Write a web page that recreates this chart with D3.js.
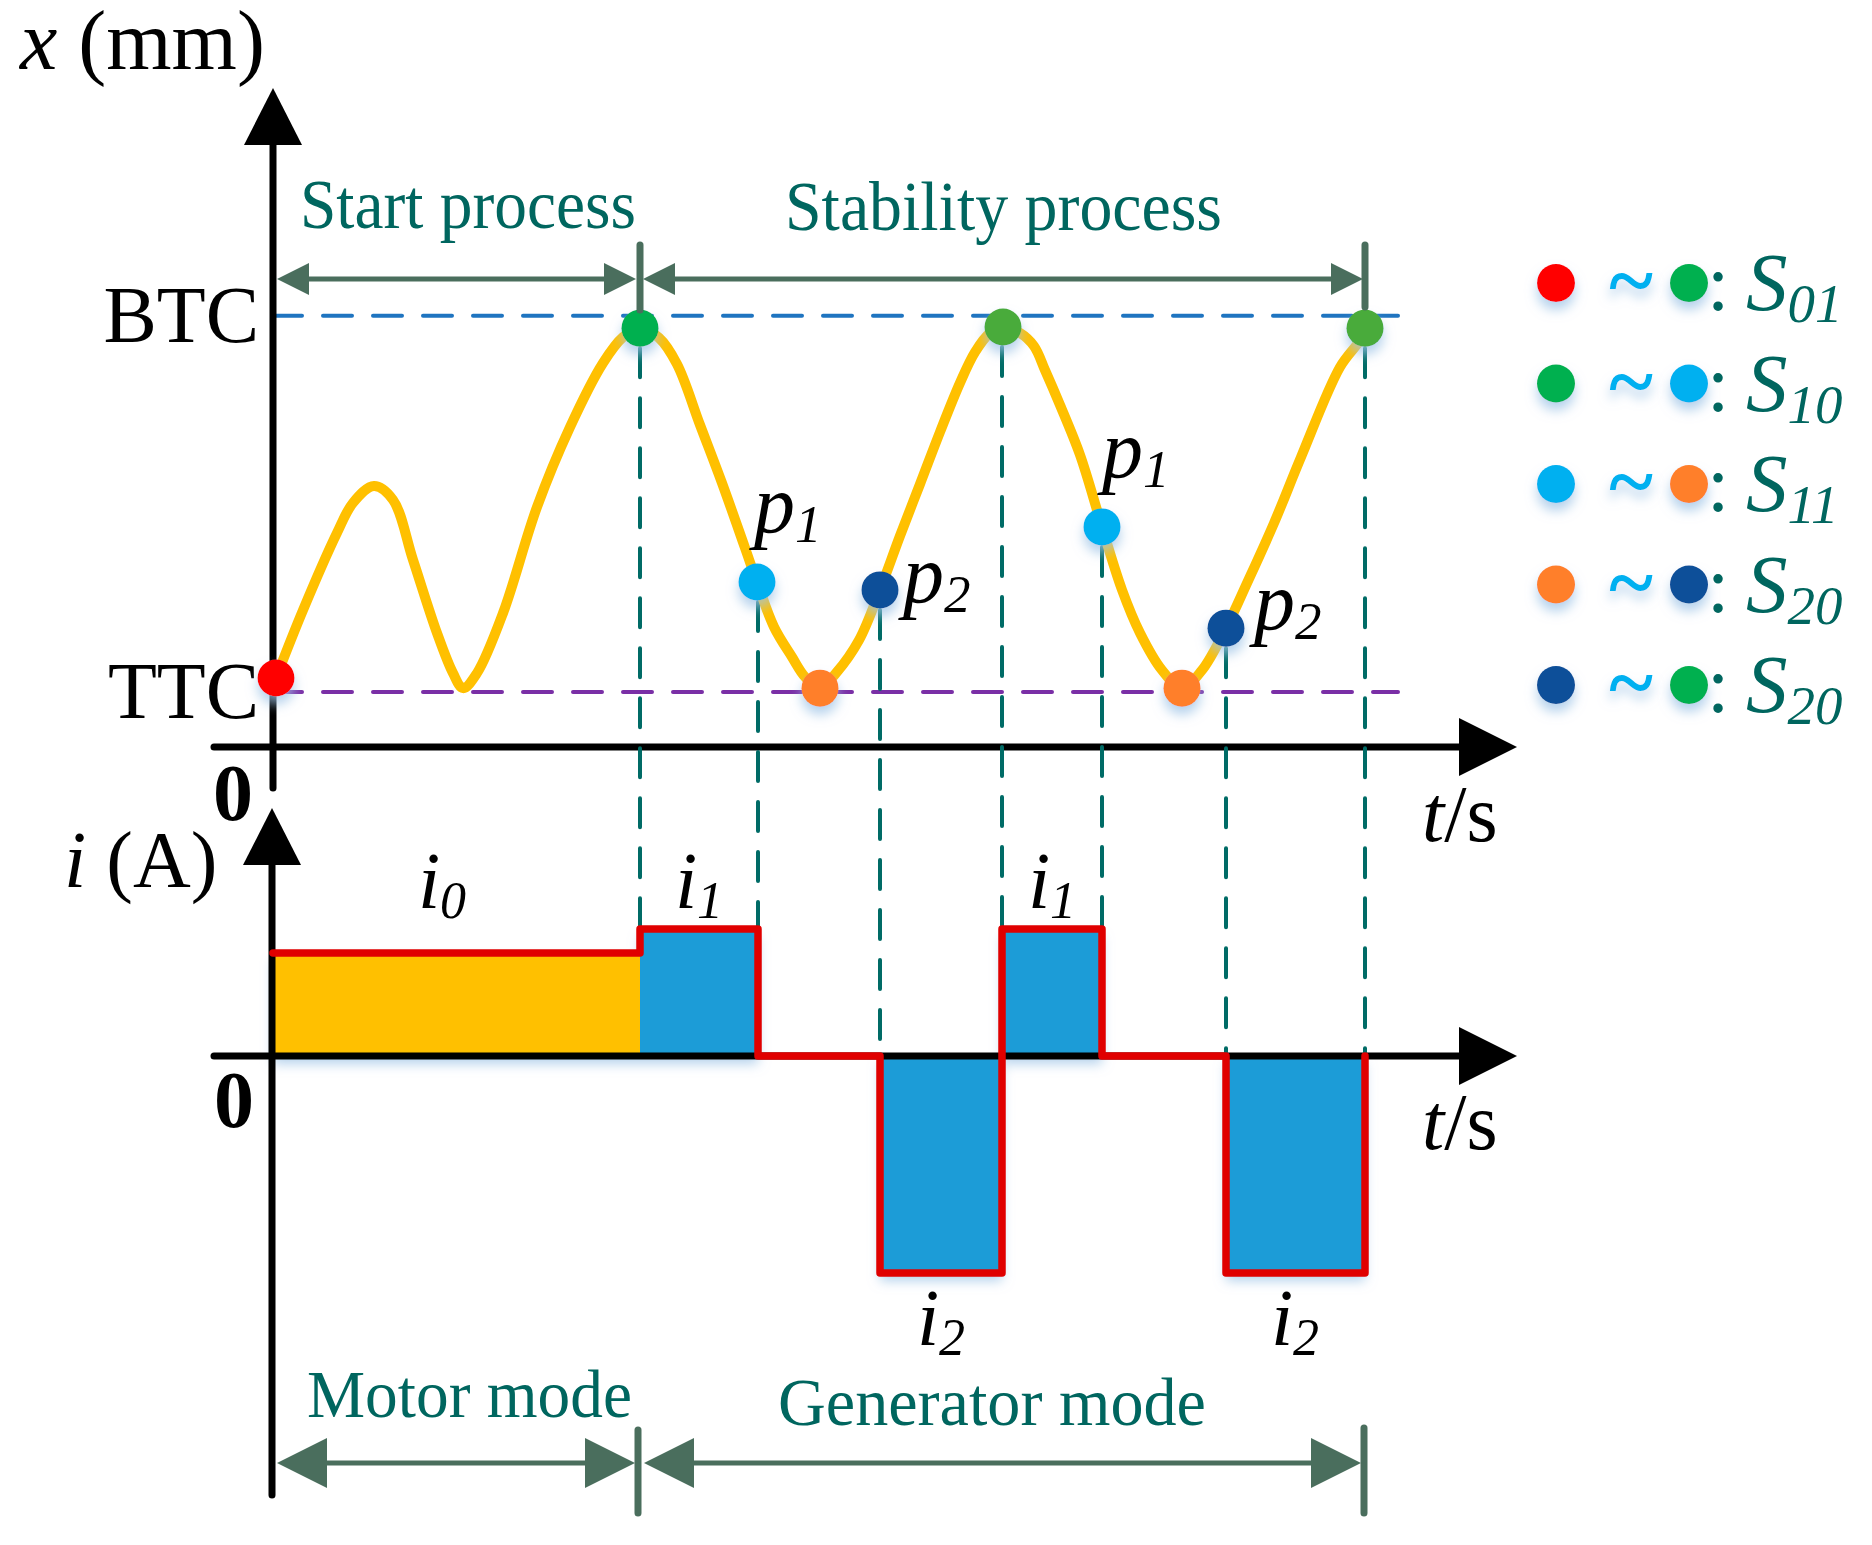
<!DOCTYPE html>
<html><head><meta charset="utf-8">
<script src="https://cdn.jsdelivr.net/npm/d3@7"></script>
<style>
body{margin:0;background:#fff}
svg{display:block}
text{font-family:"Liberation Serif","Times New Roman",serif}
</style>
</head><body>
<svg id="chart" width="1872" height="1545"></svg>
<script>
// ---------------- DATA ----------------
// displacement curve x(t)  (t in arbitrary time units, x in mm)
const curveT = [0.03,0.30,0.64,0.80,1.01,1.20,1.40,1.64,1.80,1.90,2.04,2.30,2.64,2.97,3.30,3.50,3.67,
                3.86,4.04,4.27,4.49,4.72,4.84,5.01,5.19,5.32,5.47,5.63,5.86,6.07,6.27,6.47,6.67,6.87,7.02,7.17,7.30,
                7.47,7.61,7.72,7.87,8.07,8.24,8.29,8.49,8.67,8.89,9.09,9.29,9.53,9.74,10.01,10.28,10.67,10.87,10.92];
const curveX = [1.84,3.65,5.71,6.51,6.96,6.59,4.99,3.04,1.97,1.57,1.97,3.57,6.40,8.53,10.24,10.93,11.17,
                10.91,10.21,8.59,7.04,5.31,4.40,3.20,2.40,1.87,1.57,1.97,2.85,4.19,5.63,7.01,8.40,9.71,10.53,11.04,11.20,
                11.04,10.69,10.05,9.12,7.79,6.32,5.87,4.19,3.04,2.05,1.57,2.05,3.17,4.37,5.97,7.73,10.13,10.85,11.17];

// state markers on the curve
const markerT     = [0.03, 3.67, 4.84, 5.47, 6.07, 7.30, 8.29, 9.09, 9.53, 10.92];
const markerX     = [1.84, 11.17, 4.40, 1.57, 4.19, 11.20, 5.87, 1.57, 3.17, 11.17];
const markerState = ["start","top","p1","bottom","p2","top2","p1","bottom","p2","top2"];
const pointLabels = ["", "", "p1", "", "p2", "", "p1", "", "p2", ""];

// dead centres
const refNames  = ["BTC", "TTC"];
const refValues = [11.5, 1.47];

// current phases
const phaseTimes    = [0, 3.67, 4.85, 6.07, 7.29, 8.29, 9.53, 10.92];
const currentValues = [4.12, 5.08, 0, -8.68, 5.08, 0, -8.68];
const currentLabels = ["i0", "i1", "", "i2", "i1", "", "i2"];
const currentLabelT = [1.69, 4.26, null, 6.68, 7.79, null, 10.22];

// process / mode spans
const processNames = ["Start process", "Stability process"];
const processSpans = [[0, 3.67], [3.67, 10.92]];
const modeNames    = ["Motor mode", "Generator mode"];

// legend
const legendFrom = ["start", "top", "p1", "bottom", "p2"];
const legendTo   = ["top", "p1", "bottom", "p2", "top"];
const legendSub  = ["01", "10", "11", "20", "20"];

// ---------------- STYLE ----------------
const stateColor = {start:"#ff0000", top:"#00b050", top2:"#4aab3a", p1:"#00b0f0", bottom:"#ff7f2a", p2:"#0b4f99"};
const teal = "#00665f", dimColor = "#4a6e5d";

const svg = d3.select("#chart");
const defs = svg.append("defs");
const f = defs.append("filter").attr("id","glow").attr("x","-60%").attr("y","-60%").attr("width","220%").attr("height","260%");
f.append("feGaussianBlur").attr("in","SourceAlpha").attr("stdDeviation",6);
f.append("feOffset").attr("dy",8).attr("result","b");
f.append("feFlood").attr("flood-color","#9dc3e6").attr("flood-opacity",0.75);
f.append("feComposite").attr("in2","b").attr("operator","in");
const fm = f.append("feMerge"); fm.append("feMergeNode"); fm.append("feMergeNode").attr("in","SourceGraphic");

// ---------------- SCALES ----------------
const tScale = d3.scaleLinear().domain([0, 10]).range([273, 1273]);
const xScale = d3.scaleLinear().domain([0, 10]).range([747, 372]);
const iScale = d3.scaleLinear().domain([0, 10]).range([1056, 806]);

const axisX = tScale(0);
const x0 = xScale(0), i0y = iScale(0);

// ---------------- reference dashed lines ----------------
svg.append("g").selectAll("line").data(refValues).join("line")
  .attr("x1", axisX).attr("x2", tScale(11.25))
  .attr("y1", d => xScale(d)).attr("y2", d => xScale(d))
  .attr("stroke", (d,i) => i === 0 ? "#1f74c0" : "#7a2fa6")
  .attr("stroke-width", 4).attr("stroke-dasharray", "29,21").attr("stroke-linecap","round");

// ---------------- current fills ----------------
const segs = currentValues.map((v,k) => ({t0: phaseTimes[k], t1: phaseTimes[k+1], v, k}));
svg.append("g").attr("filter","url(#glow)").selectAll("rect").data(segs.filter(s => s.v !== 0)).join("rect")
  .attr("x", d => tScale(d.t0)).attr("width", d => tScale(d.t1) - tScale(d.t0))
  .attr("y", d => iScale(Math.max(d.v, 0))).attr("height", d => Math.abs(iScale(d.v) - i0y))
  .attr("fill", d => d.k === 0 ? "#ffc000" : "#1e9cd7");

// ---------------- axes ----------------
const ax = svg.append("g");
function arrowUp(x, tip){ ax.append("path").attr("d",`M${x},${tip}L${x-29},${tip+57}L${x+29},${tip+57}Z`).attr("fill","#000"); }
function arrowRight(y, tip){ ax.append("path").attr("d",`M${tip},${y}L${tip-58},${y-29}L${tip-58},${y+29}Z`).attr("fill","#000"); }
ax.append("line").attr("x1",axisX).attr("x2",axisX).attr("y1",140).attr("y2",788).attr("stroke","#000").attr("stroke-width",7).attr("stroke-linecap","round");
arrowUp(axisX, 88);
ax.append("line").attr("x1",214).attr("x2",1462).attr("y1",x0).attr("y2",x0).attr("stroke","#000").attr("stroke-width",7).attr("stroke-linecap","round");
arrowRight(x0, 1517);
ax.append("line").attr("x1",axisX-1).attr("x2",axisX-1).attr("y1",860).attr("y2",1495).attr("stroke","#000").attr("stroke-width",7).attr("stroke-linecap","round");
arrowUp(axisX-1, 808);
ax.append("line").attr("x1",214).attr("x2",1462).attr("y1",i0y).attr("y2",i0y).attr("stroke","#000").attr("stroke-width",7).attr("stroke-linecap","round");
arrowRight(i0y, 1517);

// BTC / TTC tick labels via d3 axis
const yAxis = d3.axisLeft(xScale).tickValues(refValues).tickFormat((d,i) => refNames[i]).tickSize(0).tickPadding(14);
const yg = svg.append("g").attr("transform",`translate(${axisX},0)`).call(yAxis);
yg.select(".domain").remove();
yg.selectAll("text").attr("font-size",80).attr("font-family","'Liberation Serif','Times New Roman',serif").attr("fill","#000");

// ---------------- vertical dashed lines ----------------
const events = phaseTimes.slice(1).map((t,k) => {
  let best = 0; markerT.forEach((m,j) => { if (Math.abs(m - t) < Math.abs(markerT[best] - t)) best = j; });
  const left = currentValues[k], right = k+1 < currentValues.length ? currentValues[k+1] : 0;
  return {t, top: markerX[best], bottom: Math.max(0, left, right)};
});
svg.append("g").selectAll("line").data(events).join("line")
  .attr("x1", d => tScale(d.t)).attr("x2", d => tScale(d.t))
  .attr("y1", d => xScale(d.top) + 20).attr("y2", d => iScale(d.bottom))
  .attr("stroke", "#006b66").attr("stroke-width", 4).attr("stroke-dasharray","29,21").attr("stroke-linecap","round");

// ---------------- current outline ----------------
const stepPts = phaseTimes.map((t,k) => ({t, v: k < currentValues.length ? currentValues[k] : 0}));
const stepLine = d3.line().x(d => tScale(d.t)).y(d => iScale(d.v)).curve(d3.curveStepAfter);
svg.append("path").attr("d", stepLine(stepPts)).attr("fill","none").attr("stroke","#e00000")
  .attr("stroke-width",7.5).attr("stroke-linejoin","round").attr("stroke-linecap","round");

// ---------------- displacement curve ----------------
const curveData = curveT.map((t,k) => ({t, v: curveX[k]}));
const line = d3.line().x(d => tScale(d.t)).y(d => xScale(d.v)).curve(d3.curveCatmullRom.alpha(0.5));
svg.append("path").attr("d", line(curveData)).attr("fill","none").attr("stroke","#ffc000")
  .attr("stroke-width",10).attr("stroke-linecap","round").attr("stroke-linejoin","round");

// markers
svg.append("g").attr("filter","url(#glow)").selectAll("circle").data(markerT.map((t,k) => ({t, v: markerX[k], s: markerState[k]}))).join("circle")
  .attr("cx", d => tScale(d.t)).attr("cy", d => xScale(d.v)).attr("r", 18.5)
  .attr("fill", d => stateColor[d.s]);

// ---------------- text helpers ----------------
function sub(g, x, y, main, subTxt, size, subSize, dy, anchor){
  const t = g.append("text").attr("x", x).attr("y", y).attr("text-anchor", anchor || "start").attr("font-style","italic");
  t.append("tspan").attr("font-size", size).text(main);
  t.append("tspan").attr("font-size", subSize).attr("dy", dy).text(subTxt);
  return t;
}
const lab = svg.append("g").attr("fill","#000");

// point labels p1/p2
const pOffset = [[0,0],[0,0],[-3,-50],[0,0],[23,12],[0,0],[0,-50],[0,0],[28,1],[0,0]];
pointLabels.forEach((p,k) => {
  if (!p) return;
  sub(lab, tScale(markerT[k]) + pOffset[k][0], xScale(markerX[k]) + pOffset[k][1], p[0], p[1], 82, 53, 10);
});

// current labels
currentLabels.forEach((c,k) => {
  if (!c) return;
  const v = currentValues[k];
  const y = v > 0 ? 908 : 1345;
  sub(lab, tScale(currentLabelT[k]), y, c[0], c[1], 80, 52, 10, "middle");
});

// axis titles
const xt = lab.append("text").attr("x", 20).attr("y", 69).attr("font-size", 84);
xt.append("tspan").attr("font-style","italic").text("x");
xt.append("tspan").text(" (mm)");
const it = lab.append("text").attr("x", 64).attr("y", 887).attr("font-size", 80);
it.append("tspan").attr("font-style","italic").text("i");
it.append("tspan").text(" (A)");
[[841],[1149]].forEach(([y]) => {
  const tt = lab.append("text").attr("x", 1422).attr("y", y).attr("font-size", 80);
  tt.append("tspan").attr("font-style","italic").text("t");
  tt.append("tspan").text("/s");
});
lab.append("text").attr("x",233).attr("y",820).attr("text-anchor","middle").attr("font-size",80).attr("font-weight","bold").text("0");
lab.append("text").attr("x",234).attr("y",1127).attr("text-anchor","middle").attr("font-size",80).attr("font-weight","bold").text("0");

// ---------------- dimension arrows ----------------
const dim = svg.append("g");
function dimArrow(xa, xb, y, head, half){
  dim.append("line").attr("x1", xa + head - 2).attr("x2", xb - head + 2).attr("y1", y).attr("y2", y)
    .attr("stroke", dimColor).attr("stroke-width", 5);
  dim.append("path").attr("d", `M${xa},${y}L${xa+head},${y-half}L${xa+head},${y+half}Z`).attr("fill", dimColor);
  dim.append("path").attr("d", `M${xb},${y}L${xb-head},${y-half}L${xb-head},${y+half}Z`).attr("fill", dimColor);
}
function tick(x, y1, y2){
  dim.append("line").attr("x1", x).attr("x2", x).attr("y1", y1).attr("y2", y2)
    .attr("stroke", dimColor).attr("stroke-width", 7).attr("stroke-linecap","round");
}
const topY = 279;
processSpans.forEach(([a,b],k) => {
  const xa = tScale(a) + (k === 0 ? 4 : 3), xb = tScale(b) - (k === 0 ? 4 : 2);
  dimArrow(xa, xb, topY, 32, 16);
});
tick(tScale(processSpans[0][1]), 245, 310);
tick(tScale(processSpans[1][1]), 245, 307);
const botY = 1463;
processSpans.forEach(([a,b],k) => {
  const xa = tScale(a) + 4, xb = tScale(b) - (k === 0 ? 5 : 4);
  dimArrow(xa, xb, botY, 50, 25);
});
tick(tScale(processSpans[0][1]) - 2, 1430, 1513);
tick(tScale(processSpans[1][1]) - 1, 1428, 1513);

const txt = svg.append("g").attr("fill", teal);
txt.append("text").attr("x",300).attr("y",228).attr("font-size",70).attr("textLength",336).attr("lengthAdjust","spacingAndGlyphs").text(processNames[0]);
txt.append("text").attr("x",785).attr("y",230).attr("font-size",70).attr("textLength",437).attr("lengthAdjust","spacingAndGlyphs").text(processNames[1]);
txt.append("text").attr("x",307).attr("y",1417).attr("font-size",68).attr("textLength",325).attr("lengthAdjust","spacingAndGlyphs").text(modeNames[0]);
txt.append("text").attr("x",778).attr("y",1425).attr("font-size",68).attr("textLength",428).attr("lengthAdjust","spacingAndGlyphs").text(modeNames[1]);

// ---------------- legend ----------------
const lg = svg.append("g");
const rowY = d3.scaleLinear().domain([0, 4]).range([283, 685]);
legendFrom.forEach((s,k) => {
  const y = rowY(k);
  lg.append("circle").attr("cx",1556).attr("cy",y).attr("r",19).attr("fill",stateColor[s]).attr("filter","url(#glow)");
  lg.append("text").attr("x",1631).attr("y",y+26).attr("text-anchor","middle").attr("font-family","'DejaVu Sans',sans-serif")
    .attr("font-weight","bold").attr("font-size",84).attr("fill","#00b0f0").attr("filter","url(#glow)").text("~");
  lg.append("circle").attr("cx",1689).attr("cy",y).attr("r",19).attr("fill",stateColor[legendTo[k]]).attr("filter","url(#glow)");
  lg.append("text").attr("x",1718).attr("y",y+27).attr("text-anchor","middle").attr("font-size",80).attr("fill",teal).text(":");
  const t = lg.append("text").attr("x",1746).attr("y",y+27).attr("font-style","italic").attr("fill",teal);
  t.append("tspan").attr("font-size",83).text("S");
  t.append("tspan").attr("font-size",55).attr("dy",12).text(legendSub[k]);
});
</script>
</body></html>
